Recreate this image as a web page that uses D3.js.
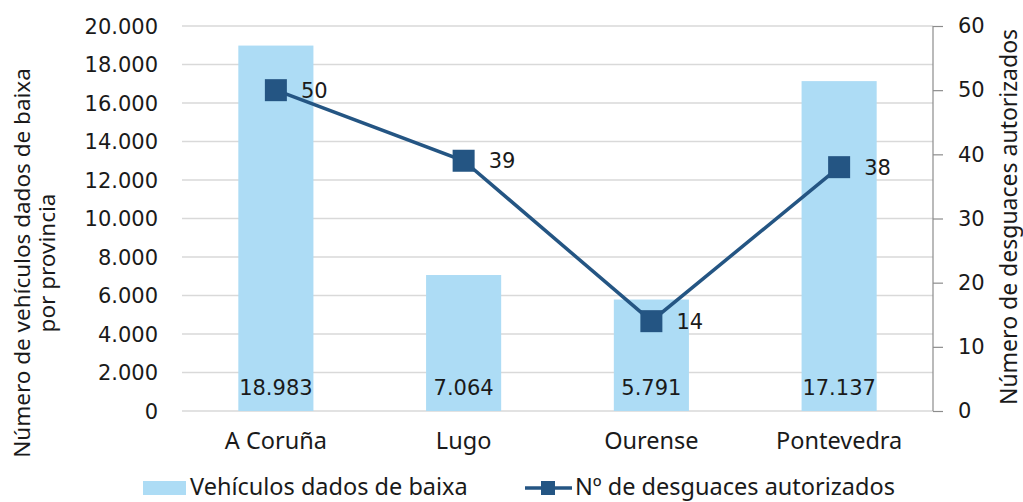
<!DOCTYPE html>
<html><head><meta charset="utf-8">
<script src="https://cdn.jsdelivr.net/npm/d3@7"></script>
<style>body{margin:0;background:#fff}svg{display:block;font-family:"DejaVu Sans",sans-serif}</style>
</head><body><svg id="c" width="1023" height="502"></svg>
<script>
const categories = ["A Coruña","Lugo","Ourense","Pontevedra"];
const vehiculos = [18983, 7064, 5791, 17137];
const desguaces = [50, 39, 14, 38];
const leftTicks = [0,2000,4000,6000,8000,10000,12000,14000,16000,18000,20000];
const rightTicks = [0,10,20,30,40,50,60];

const svg = d3.select("#c");
const L = 182, R = 933, T = 26, B = 411;
const barColor = "#ADDCF5", lineColor = "#245583", txt = "#1a1a1a";
const NUMF = '"DejaVu Sans",sans-serif';
const WORDF = '"Noto Sans",sans-serif';
const fmt = v => d3.format(",")(v).replace(/,/g, ".");

const x = d3.scaleBand().domain(categories).range([L, R]).paddingInner(0.6).paddingOuter(0.3);
const yL = d3.scaleLinear().domain([0, 20000]).range([B, T]);
const yR = d3.scaleLinear().domain([0, 60]).range([B, T]);

// gridlines
svg.append("g").selectAll("line").data(leftTicks).join("line")
  .attr("x1", L).attr("x2", R).attr("y1", d => yL(d)).attr("y2", d => yL(d))
  .attr("stroke", "#d9d9d9").attr("stroke-width", 1.3);

// left tick labels
svg.append("g").selectAll("text").data(leftTicks).join("text")
  .attr("x", 158).attr("y", d => yL(d)).attr("dy", "0.36em").attr("text-anchor", "end")
  .attr("font-family", NUMF).attr("font-size", 21).attr("fill", txt).text(d => fmt(d));

// bars
svg.append("g").selectAll("rect").data(vehiculos).join("rect")
  .attr("x", (d, i) => x(categories[i])).attr("width", x.bandwidth())
  .attr("y", d => yL(d)).attr("height", d => yL(0) - yL(d)).attr("fill", barColor);

// bar labels
svg.append("g").selectAll("text").data(vehiculos).join("text")
  .attr("x", (d, i) => x(categories[i]) + x.bandwidth() / 2).attr("y", 395)
  .attr("text-anchor", "middle").attr("font-family", NUMF).attr("font-size", 21).attr("fill", txt).text(d => fmt(d));

// right axis
const rAxis = svg.append("g").attr("transform", `translate(${R},0)`)
  .call(d3.axisRight(yR).tickValues(rightTicks).tickSize(10).tickPadding(15));
rAxis.select(".domain").attr("stroke", "#8c8c8c").attr("stroke-width", 1.2).attr("d", `M0,${T}V${B}`);
rAxis.selectAll(".tick line").attr("stroke", "#8c8c8c").attr("stroke-width", 1.2);
rAxis.selectAll(".tick text").attr("font-size", 21).attr("fill", txt).attr("font-family", NUMF);

// category labels
svg.append("g").selectAll("text").data(categories).join("text")
  .attr("x", d => x(d) + x.bandwidth() / 2).attr("y", 449)
  .attr("text-anchor", "middle").attr("font-family", WORDF).attr("font-size", 23.5).attr("fill", txt).text(d => d);

// line
const cx = i => x(categories[i]) + x.bandwidth() / 2;
svg.append("path").datum(desguaces)
  .attr("d", d3.line().x((d, i) => cx(i)).y(d => yR(d)))
  .attr("fill", "none").attr("stroke", lineColor).attr("stroke-width", 3.5);
const ms = 22;
svg.append("g").selectAll("rect").data(desguaces).join("rect")
  .attr("x", (d, i) => cx(i) - ms / 2).attr("y", d => yR(d) - ms / 2)
  .attr("width", ms).attr("height", ms).attr("fill", lineColor);
svg.append("g").selectAll("text").data(desguaces).join("text")
  .attr("x", (d, i) => cx(i) + 25).attr("y", d => yR(d)).attr("dy", "0.36em")
  .attr("font-family", NUMF).attr("font-size", 21).attr("fill", txt).text(d => d);

// axis titles
svg.append("text").attr("transform", "translate(30,263) rotate(-90)")
  .attr("text-anchor", "middle").attr("font-family", WORDF).attr("font-size", 22.5).attr("fill", txt)
  .text("Número de vehículos dados de baixa");
svg.append("text").attr("transform", "translate(55,263) rotate(-90)")
  .attr("text-anchor", "middle").attr("font-family", WORDF).attr("font-size", 22.5).attr("fill", txt)
  .text("por provincia");
svg.append("text").attr("transform", "translate(1017,217) rotate(-90)")
  .attr("text-anchor", "middle").attr("font-family", WORDF).attr("font-size", 23).attr("fill", txt)
  .text("Número de desguaces autorizados");

// legend
const lg = svg.append("g");
lg.append("rect").attr("x", 143).attr("y", 481).attr("width", 43).attr("height", 14).attr("fill", barColor);
lg.append("text").attr("x", 190).attr("y", 495).attr("font-family", WORDF).attr("font-size", 23.5).attr("fill", txt).text("Vehículos dados de baixa");
lg.append("line").attr("x1", 525).attr("x2", 572).attr("y1", 488).attr("y2", 488).attr("stroke", lineColor).attr("stroke-width", 3.5);
lg.append("rect").attr("x", 541).attr("y", 481).attr("width", 14).attr("height", 14).attr("fill", lineColor);
lg.append("text").attr("x", 575).attr("y", 495).attr("font-family", WORDF).attr("font-size", 23.5).attr("fill", txt).text("Nº de desguaces autorizados");
</script></body></html>
